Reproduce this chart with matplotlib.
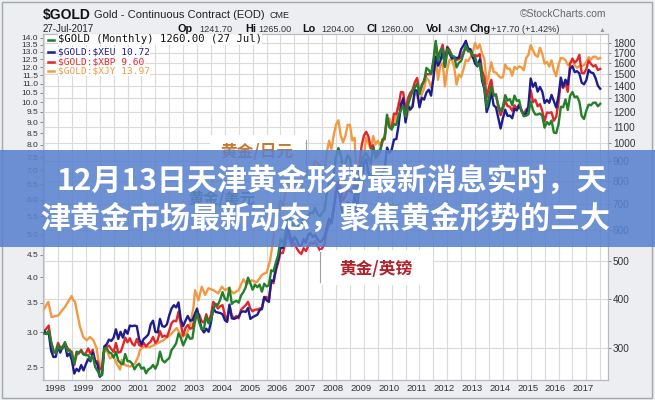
import numpy as np
import pandas as pd
import matplotlib
matplotlib.use("Agg")
import matplotlib.pyplot as plt
import matplotlib.transforms as mtransforms
from matplotlib.lines import Line2D
from matplotlib.patches import Rectangle

plt.rcParams['font.family'] = ['Liberation Sans', 'DejaVu Sans']

# monthly closes, Jul 1997 .. Jul 2017
gold_usd = [326, 325, 332, 311, 296, 290,
            304, 297, 301, 310, 294, 296, 288, 273, 293, 292, 294, 288,
            287, 287, 279, 286, 268, 262, 255, 255, 299, 299, 292, 290,
            283, 293, 278, 274, 272, 289, 277, 277, 273, 264, 270, 273,
            265, 267, 258, 264, 266, 271, 265, 273, 293, 279, 275, 279,
            282, 296, 301, 308, 326, 318, 304, 313, 324, 316, 317, 347,
            367, 347, 334, 336, 361, 346, 354, 375, 388, 386, 398, 416,
            400, 396, 427, 388, 393, 395, 391, 408, 416, 428, 453, 438,
            422, 435, 428, 435, 417, 437, 430, 433, 473, 470, 495, 517,
            568, 556, 582, 654, 643, 613, 632, 623, 599, 604, 646, 632,
            650, 665, 662, 683, 659, 650, 665, 672, 743, 789, 783, 834,
            923, 971, 933, 865, 886, 930, 914, 834, 870, 718, 815, 884,
            928, 942, 916, 884, 979, 927, 955, 955, 1008, 1040, 1182, 1097,
            1083, 1118, 1113, 1180, 1214, 1244, 1169, 1248, 1307, 1357, 1386, 1421,
            1333, 1411, 1439, 1556, 1536, 1500, 1628, 1825, 1620, 1722, 1746, 1565,
            1738, 1711, 1669, 1664, 1561, 1604, 1622, 1692, 1776, 1720, 1714, 1675,
            1662, 1578, 1597, 1476, 1392, 1234, 1312, 1396, 1327, 1323, 1253, 1202,
            1240, 1326, 1284, 1296, 1250, 1322, 1282, 1287, 1210, 1171, 1175, 1184,
            1278, 1213, 1183, 1183, 1190, 1172, 1095, 1132, 1115, 1142, 1064, 1060,
            1116, 1238, 1235, 1293, 1215, 1320, 1351, 1309, 1316, 1277, 1173, 1152,
            1211, 1254, 1249, 1268, 1269, 1242, 1260]

gold_xeu = [3.02, 2.98, 2.99, 2.73, 2.64, 2.64,
            2.79, 2.70, 2.79, 2.82, 2.65, 2.69, 2.59, 2.42, 2.48, 2.45, 2.53, 2.46,
            2.54, 2.61, 2.58, 2.70, 2.58, 2.54, 2.38, 2.41, 2.79, 2.82, 2.89, 2.87,
            2.92, 3.05, 2.90, 3.01, 2.92, 3.04, 2.98, 3.11, 3.10, 3.11, 3.10, 2.90,
            2.82, 2.90, 2.93, 2.97, 3.13, 3.19, 3.01, 3.00, 3.22, 3.10, 3.09, 3.13,
            3.28, 3.40, 3.46, 3.42, 3.51, 3.21, 3.10, 3.19, 3.27, 3.19, 3.20, 3.30,
            3.40, 3.21, 3.06, 3.00, 3.06, 3.01, 3.16, 3.41, 3.34, 3.33, 3.32, 3.30,
            3.20, 3.17, 3.47, 3.23, 3.22, 3.24, 3.26, 3.34, 3.35, 3.34, 3.41, 3.22,
            3.25, 3.27, 3.29, 3.37, 3.39, 3.61, 3.55, 3.52, 3.94, 3.92, 4.19, 4.38,
            4.66, 4.67, 4.81, 5.19, 5.02, 4.79, 4.94, 4.87, 4.72, 4.72, 4.89, 4.79,
            5.00, 5.04, 4.94, 4.99, 4.88, 4.81, 4.85, 4.94, 5.20, 5.44, 5.33, 5.71,
            6.24, 6.39, 5.91, 5.54, 5.72, 5.92, 5.86, 5.67, 6.17, 5.65, 6.42, 6.31,
            7.25, 7.42, 6.89, 6.70, 6.94, 6.62, 6.73, 6.68, 6.90, 7.07, 7.88, 7.67,
            7.79, 8.22, 8.24, 8.87, 9.87, 10.20, 8.99, 9.83, 9.61, 9.76, 10.66, 10.60,
            9.73, 10.22, 10.13, 10.51, 10.67, 10.34, 11.31, 12.67, 12.09, 12.39, 13.03, 12.04,
            13.27, 12.86, 12.55, 12.61, 12.59, 12.63, 13.19, 13.43, 13.77, 13.23, 13.18, 12.69,
            12.22, 12.05, 12.48, 11.18, 10.71, 9.49, 9.86, 10.58, 9.83, 9.73, 9.21, 8.71,
            9.19, 9.61, 9.30, 9.32, 9.19, 9.65, 9.57, 9.82, 9.60, 9.37, 9.40, 9.79,
            11.31, 10.83, 11.06, 10.56, 10.82, 10.56, 9.95, 10.11, 9.96, 10.38, 10.04, 9.72,
            10.33, 11.36, 10.83, 11.24, 10.95, 11.89, 12.06, 11.69, 11.75, 11.61, 11.07, 10.97,
            11.21, 11.83, 11.67, 11.63, 11.33, 10.89, 10.72]

gold_xbp = [3.02, 3.06, 3.11, 2.85, 2.70, 2.71,
            2.84, 2.77, 2.76, 2.84, 2.77, 2.73, 2.71, 2.53, 2.67, 2.69, 2.74, 2.68,
            2.69, 2.76, 2.68, 2.74, 2.59, 2.58, 2.48, 2.49, 2.78, 2.78, 2.80, 2.75,
            2.71, 2.84, 2.70, 2.71, 2.80, 2.92, 2.85, 2.91, 2.83, 2.80, 2.90, 2.81,
            2.79, 2.84, 2.79, 2.83, 2.86, 2.93, 2.84, 2.88, 3.02, 2.93, 2.95, 2.93,
            3.03, 3.15, 3.19, 3.18, 3.34, 3.13, 2.95, 3.07, 3.12, 3.06, 3.07, 3.24,
            3.33, 3.29, 3.18, 3.16, 3.30, 3.16, 3.29, 3.52, 3.47, 3.40, 3.44, 3.46,
            3.29, 3.19, 3.45, 3.28, 3.23, 3.27, 3.23, 3.38, 3.42, 3.46, 3.52, 3.40,
            3.35, 3.38, 3.38, 3.40, 3.41, 3.61, 3.61, 3.56, 3.90, 3.88, 4.14, 4.32,
            4.55, 4.54, 4.74, 5.05, 4.86, 4.71, 4.79, 4.66, 4.57, 4.52, 4.66, 4.59,
            4.71, 4.80, 4.76, 4.83, 4.72, 4.61, 4.66, 4.74, 5.11, 5.29, 5.30, 5.77,
            6.31, 6.59, 6.39, 5.98, 6.11, 6.35, 6.28, 6.24, 6.60, 6.06, 7.07, 7.95,
            8.39, 8.56, 8.35, 7.86, 7.98, 7.45, 7.56, 7.73, 8.23, 8.23, 9.20, 8.81,
            8.76, 9.42, 9.38, 9.81, 10.54, 10.52, 9.52, 10.19, 10.49, 10.66, 11.10, 11.34,
            10.49, 10.85, 11.21, 11.57, 11.56, 11.57, 12.22, 13.57, 12.71, 13.04, 13.49, 12.41,
            13.36, 13.11, 12.76, 12.59, 12.45, 12.53, 12.65, 12.99, 13.32, 13.03, 13.06, 12.59,
            12.79, 12.71, 12.84, 11.79, 11.39, 10.26, 10.82, 11.23, 10.34, 10.42, 9.73, 9.34,
            9.65, 10.06, 9.79, 9.76, 9.56, 9.83, 9.67, 9.86, 9.54, 9.37, 9.61, 9.68,
            10.64, 9.99, 10.12, 9.78, 9.89, 9.54, 9.04, 9.47, 9.45, 9.48, 9.07, 9.26,
            9.97, 11.12, 10.76, 11.07, 10.55, 12.22, 12.55, 12.29, 12.43, 12.80, 11.64, 11.62,
            11.88, 12.42, 12.21, 12.04, 12.13, 11.82, 11.89]

# $XJY ratio: read point by point up to mid 2005, monthly after Oct 2005
xjy_early_t = [1997.47, 1997.65, 1997.77, 1998.01, 1998.25, 1998.49, 1998.55, 1998.61,
               1998.67, 1998.79, 1998.85, 1998.91, 1999.03, 1999.15, 1999.27, 1999.39,
               1999.45, 1999.57, 1999.63, 1999.75, 1999.87, 1999.99, 2000.11, 2000.23,
               2000.29, 2000.41, 2000.59, 2000.77, 2000.89, 2000.95, 2001.07, 2001.31,
               2001.55, 2001.79, 2002.03, 2002.27, 2002.45, 2002.63, 2002.75, 2002.87,
               2002.93, 2003.05, 2003.17, 2003.29, 2003.41, 2003.59, 2003.77, 2003.89,
               2004.01, 2004.13, 2004.31, 2004.49, 2004.67, 2004.79, 2004.97, 2005.15,
               2005.33, 2005.51, 2005.63]
xjy_early = [3.37, 3.52, 3.25, 3.28, 3.43, 3.63, 3.55, 3.52,
             3.37, 3.09, 3.01, 2.93, 2.88, 2.93, 2.88, 2.76,
             2.60, 2.44, 2.70, 2.74, 2.62, 2.65, 2.55, 2.47,
             2.60, 2.53, 2.51, 2.55, 2.65, 2.74, 2.78, 2.78,
             2.83, 2.88, 2.96, 3.07, 2.93, 2.98, 3.12, 3.42,
             3.74, 3.55, 3.81, 3.65, 3.78, 3.74, 3.68, 3.81,
             3.74, 3.78, 3.68, 3.74, 3.96, 3.86, 3.94, 3.90,
             4.05, 4.11, 4.38]
xjy_late = [4.91, 5.35, 5.49,
            5.98, 5.80, 6.18, 6.71, 6.48, 6.29, 6.54, 6.62, 6.36, 6.36, 6.74, 6.77,
            7.08, 7.06, 7.03, 7.38, 7.24, 7.20, 7.12, 7.02, 7.69, 8.17, 7.82, 8.41,
            8.89, 9.09, 8.40, 8.10, 8.37, 8.87, 8.88, 8.18, 8.30, 6.33, 6.97, 7.24,
            7.52, 8.31, 8.08, 7.80, 8.37, 8.01, 8.17, 7.99, 8.16, 8.42, 9.15, 9.18,
            8.77, 8.96, 9.32, 9.98, 9.94, 9.85, 9.05, 9.43, 9.76, 9.77, 10.48, 10.36,
            9.84, 10.41, 10.75, 11.34, 11.20, 10.80, 11.28, 12.65, 11.23, 12.09, 12.26, 10.85,
            11.89, 12.47, 12.47, 11.98, 10.96, 11.55, 11.39, 11.88, 12.47, 12.38, 12.65, 12.96,
            13.61, 13.21, 13.51, 12.89, 12.53, 10.99, 11.57, 12.31, 11.70, 11.67, 11.50, 11.36,
            11.38, 12.17, 11.90, 11.90, 11.48, 12.02, 11.88, 12.05, 11.98, 11.80, 12.58, 12.79,
            13.46, 13.10, 12.78, 12.67, 13.28, 12.87, 12.22, 12.33, 12.04, 12.44, 11.78, 11.45,
            12.15, 12.59, 12.56, 12.45, 12.14, 12.24, 12.40, 12.13, 11.96, 12.07, 12.04, 12.13,
            12.32, 12.64, 12.48, 12.67, 12.68, 12.52, 12.59]

years = list(range(1998, 2018))
left_ticks = [2.5, 3.0, 3.5, 4.0, 4.5, 5.0, 5.5, 6.0, 6.5, 7.0, 7.5, 8.0, 8.5,
              9.0, 9.5, 10.0, 10.5, 11.0, 11.5, 12.0, 12.5, 13.0, 13.5, 14.0]
right_ticks = [300, 400, 500, 600, 700, 800, 900, 1000, 1100, 1200, 1300,
               1400, 1500, 1600, 1700, 1800]

legend_rows = ["$GOLD (Monthly) 1260.00 (27 Jul)", "$GOLD:$XEU 10.72",
               "$GOLD:$XBP 9.60", "$GOLD:$XJY 13.97"]
banner_lines = ["12月13日天津黄金形势最新消息实时，天",
                "津黄金市场最新动态，聚焦黄金形势的三大"]

months = pd.date_range("1997-07-01", "2017-07-01", freq="MS")
t = (months.year + (months.month - 1) / 12.0).to_numpy()
t_late = t[months >= "2005-10-01"]

C_GREEN = "#23802a"
C_BLUE = "#1d1d8e"
C_RED = "#e3262c"
C_ORANGE = "#f29a42"
GRID = "#dadada"

W, H = 655, 400
def fx(px):
    return px / W
def fy(py):
    return 1 - py / H
def esc(s):
    return s.replace("$", r"\$")

fig = plt.figure(figsize=(W / 100, H / 100), dpi=100, facecolor="#eceef1")
fig.add_artist(Rectangle((fx(2), fy(398)), fx(650), 396 / H, transform=fig.transFigure,
                         fill=False, edgecolor="#a4a8ad", lw=1.0))

ax = fig.add_axes([fx(43), fy(380), fx(608) - fx(43), fy(34) - fy(380)])
ax.set_facecolor("white")
ax.set_yscale("log")
ax.set_ylim(2.34, 14.27)
ax.set_xlim(1997.46, 2017.78)
ax2 = ax.twinx()
ax2.set_yscale("log")
ax2.set_ylim(248, 1900)

# grid
ax.set_xticks(years)
ax.set_xticks([y + 0.5 for y in years[:-1]] + [1997.5, 2017.5], minor=True)
ax.grid(True, axis="x", which="both", color=GRID, lw=0.8)
ax.set_axisbelow(True)
hline_tr = mtransforms.blended_transform_factory(ax.transAxes, ax2.transData)
for v in right_ticks:
    ax.add_line(Line2D([0, 1], [v, v], transform=hline_tr, color=GRID, lw=0.8, zorder=0.5))

# series
ax.plot(np.concatenate([xjy_early_t, t_late]), np.concatenate([xjy_early, xjy_late]),
        color=C_ORANGE, lw=1.7, zorder=2)
ax.plot(t, gold_xbp, color=C_RED, lw=1.7, zorder=3)
ax.plot(t, gold_xeu, color=C_BLUE, lw=1.7, zorder=4)
ax2.plot(t, gold_usd, color=C_GREEN, lw=1.7, zorder=5)

# axes styling
for a in (ax, ax2):
    for s in a.spines.values():
        s.set_color("#b8babd")
        s.set_linewidth(0.8)
ax.set_xticklabels([str(y) for y in years])
ax.tick_params(axis="x", which="both", length=0, pad=3, labelsize=6.8, labelcolor="#333333")
shift = mtransforms.ScaledTranslation(-0.03, 0, fig.dpi_scale_trans)
for lab in ax.get_xticklabels():
    lab.set_transform(lab.get_transform() + shift)

ax.yaxis.set_major_locator(matplotlib.ticker.FixedLocator(left_ticks))
ax.yaxis.set_minor_locator(matplotlib.ticker.NullLocator())
ax.set_yticklabels(["%.1f" % v for v in left_ticks])
ax.tick_params(axis="y", which="major", length=2.5, width=0.6, color="#777777", pad=1,
               labelsize=6.0, labelcolor="#333333")
ax2.yaxis.set_major_locator(matplotlib.ticker.FixedLocator(right_ticks))
ax2.yaxis.set_minor_locator(matplotlib.ticker.NullLocator())
ax2.set_yticklabels([str(v) for v in right_ticks])
ax2.tick_params(axis="y", which="major", length=2.5, width=0.6, color="#777777", pad=1,
                labelsize=7.2, labelcolor="#333333")

# header
fig.text(fx(43), fy(19), esc("$GOLD"), fontsize=10, fontweight="bold", color="#111111")
fig.text(fx(94), fy(18), "Gold - Continuous Contract (EOD)", fontsize=8, color="#222222")
fig.text(fx(270), fy(18), "CME", fontsize=6.5, color="#222222")
fig.text(fx(43), fy(32), "27-Jul-2017", fontsize=7, color="#222222")
fig.text(fx(606), fy(17), "\u00a9StockCharts.com", fontsize=7.5, color="#666666", ha="right")
header_bits = [(178, "Op", True), (199, "1241.70", False), (245, "Hi", True),
               (258, "1265.00", False), (302, "Lo", True), (321, "1204.00", False),
               (367, "Cl", True), (380, "1260.00", False), (426, "Vol", True),
               (448, "4.3M", False), (469, "Chg", True), (491, "+17.70 (+1.42%)", False)]
for px, txt, bold in header_bits:
    fig.text(fx(px), fy(32), txt, fontsize=7.8 if bold else 6.6,
             fontweight="bold" if bold else "normal", color="#111111" if bold else "#333333")
fig.text(fx(599), fy(32), "\u25b2", fontsize=5, color="#9a9a9a")

# legend
leg_colors = [C_GREEN, C_BLUE, C_RED, C_ORANGE]
leg_text_colors = ["#111111", C_BLUE, C_RED, C_ORANGE]
leg_y = [39.5, 51.5, 61.5, 71]
leg_size = [7.6, 6.8, 6.8, 6.8]
for row, col, tcol, yy, fs in zip(legend_rows, leg_colors, leg_text_colors, leg_y, leg_size):
    fig.add_artist(Line2D([fx(47.5), fx(54)], [fy(yy), fy(yy)], color=col, lw=1.8,
                          transform=fig.transFigure, zorder=4))
    fig.text(fx(58), fy(yy), esc(row), fontsize=fs, color=tcol, va="center",
             family="DejaVu Sans Mono", zorder=4,
             bbox=dict(facecolor="white", edgecolor="none", pad=0.3, alpha=0.9))

# callout labels (the banner lies over them, as in the source image)
cjk = ["Noto Sans CJK SC", "DejaVu Sans"]
fig.add_artist(Rectangle((fx(210), fy(178)), fx(305) - fx(210), 43 / H, transform=fig.transFigure,
                         facecolor="white", edgecolor="none", zorder=5))
fig.add_artist(Line2D([fx(305.5), fx(305.5)], [fy(172), fy(140)], color="#a0a0a0", lw=0.8,
                      transform=fig.transFigure, zorder=5))
fig.text(fx(257), fy(152), "黄金/日元", fontsize=12, fontweight="bold", color="#c8782f",
         family=cjk, ha="center", va="center", zorder=6)
fig.text(fx(222), fy(198), "黄金/美元", fontsize=11, fontweight="bold", color="#2f6a2a",
         family=cjk, ha="center", va="center", zorder=6)
fig.add_artist(Rectangle((fx(320), fy(285)), fx(433) - fx(320), 35 / H, transform=fig.transFigure,
                         facecolor="white", edgecolor="none", zorder=5))
fig.add_artist(Line2D([fx(319.5), fx(319.5)], [fy(282), fy(252)], color="#a0a0a0", lw=0.8,
                      transform=fig.transFigure, zorder=5))
fig.text(fx(376), fy(269), "黄金/英镑", fontsize=12, fontweight="bold", color="#b3202a",
         family=cjk, ha="center", va="center", zorder=6)

# banner
fig.add_artist(Rectangle((0, fy(247)), 1, 97 / H, transform=fig.transFigure,
                         facecolor="#5a82cf", edgecolor="none", alpha=0.88, zorder=7))
fig.text(fx(332), fy(181), banner_lines[0], fontsize=21.6, fontweight="bold", color="white",
         family=cjk, ha="center", va="center", zorder=8)
fig.text(fx(325.5), fy(219), banner_lines[1], fontsize=21.6, fontweight="bold", color="white",
         family=cjk, ha="center", va="center", zorder=8)

fig.savefig("out.png", dpi=100, facecolor=fig.get_facecolor())
